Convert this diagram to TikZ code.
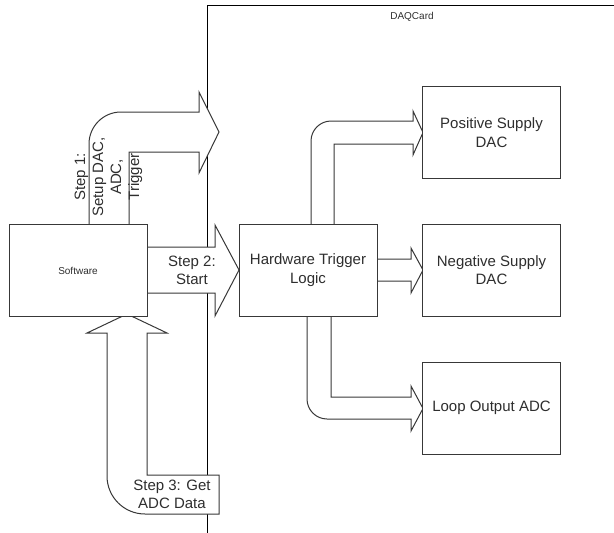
\documentclass[tikz,border=0pt]{standalone}
\usepackage{fontspec}
\setmainfont{Liberation Sans}
\begin{document}
\begin{tikzpicture}[x=1pt,y=-1pt,
  shp/.style={draw=black!78, fill=white, line width=1pt, line join=miter},
  blk/.style={draw=black!78, fill=white, line width=1pt, inner sep=0pt,
              minimum width=138pt, minimum height=92pt, align=center,
              font=\fontsize{15}{18.5}\selectfont, text=black!82},
  lbl/.style={font=\fontsize{15}{18}\selectfont, text=black!82, align=center, inner sep=0pt},
  small/.style={font=\fontsize{10}{12}\selectfont, text=black!82, inner sep=0pt}]
\useasboundingbox (0,0) rectangle (614,533);
% DAQCard boundary
\draw[black, line width=0.8pt] (207,533) -- (207,5) -- (614,5);
\node[small] (daq) at (412,17) {DAQCard};
% Step 1 arrow
\draw[shp] (89,224) -- (89,144) .. controls (89,126.3) and (103.3,112) .. (121,112)
  -- (199,112) -- (199,92) -- (219,132) -- (199,173) -- (199,152) -- (129,152) -- (129,224);
\node[lbl, rotate=90] (s1) at (108.5,177) {Step 1:\\Setup DAC,\\ADC,\\Trigger};
% Step 2 arrow
\draw[shp] (147,247) -- (215,247) -- (215,225) -- (239,270) -- (215,316) -- (215,293) -- (147,293);
\node[lbl] (s2) at (192,270) {Step 2:\\Start};
% Step 3 arrow
\draw[shp] (107,333) -- (87,333) -- (127,314) -- (167,333) -- (147,333) -- (147,475)
  -- (219,475) -- (219,514) -- (145,514) .. controls (124,514) and (107,497) .. (107,476) -- cycle;
\node[lbl] (s3) at (172,494) {Step 3: Get\\ADC Data};
% Hardware -> Positive
\draw[shp] (311,224) -- (311,141) .. controls (311,130) and (320,121) .. (331,121)
  -- (413,121) -- (413,111) -- (423,132.5) -- (413,155) -- (413,144) -- (334,144) -- (334,224);
% Hardware -> Negative
\draw[shp] (377,259) -- (411,259) -- (411,248) -- (423,270) -- (411,293) -- (411,281) -- (377,281);
% Hardware -> Loop
\draw[shp] (331,316) -- (331,397) -- (411,397) -- (411,386) -- (423,408.5) -- (411,431) -- (411,419)
  -- (327,419) .. controls (316,419) and (307,410) .. (307,399) -- (307,316);
% Blocks
\node[blk, font=\fontsize{10}{12}\selectfont] (sw) at (78,270.5) {Software};
\node[blk] (hw) at (308,270) {Hardware Trigger\\Logic};
\node[blk] (pos) at (491.5,132.5) {Positive Supply\\DAC};
\node[blk] (neg) at (491.5,270) {Negative Supply\\DAC};
\node[blk] (loop) at (491.5,408) {Loop Output ADC};
\end{tikzpicture}
\end{document}
